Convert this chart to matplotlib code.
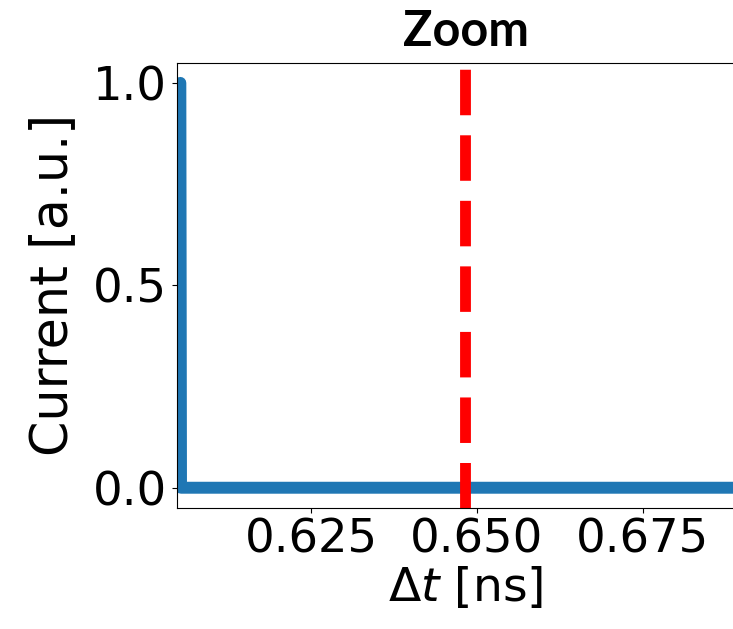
import matplotlib
matplotlib.use("Agg")
import matplotlib.pyplot as plt

# pulse data (ns, a.u.)
t_ns = [0.6053, 0.6054, 0.75]
current = [1.0, 0.0, 0.0]
t_marker = 0.6482
x_range = [0.6048, 0.6919]
x_ticks = [0.625, 0.650, 0.675]
y_ticks = [0.0, 0.5, 1.0]

fig = plt.figure(figsize=(7.33, 6.29), dpi=100)
ax = fig.add_axes([0.2415, 0.1924, 0.7885, 0.708])

ax.plot(t_ns, current, color='#1f77b4', lw=8.6, solid_capstyle='round', solid_joinstyle='round')
ax.axvline(t_marker, color='red', lw=7.8, ls=(0, (4.2, 1.85)))

ax.set_xlim(x_range)
ax.set_ylim(-0.05, 1.05)
ax.set_xticks(x_ticks)
ax.set_xticklabels(['0.625', '0.650', '0.675'])
ax.set_yticks(y_ticks)
ax.set_yticklabels(['0.0', '0.5', '1.0'])
ax.tick_params(labelsize=33.5)

ax.set_xlabel(r'$\Delta t$ [ns]', fontsize=34, labelpad=2)
ax.set_ylabel('Current [a.u.]', fontsize=36.5, labelpad=11)
ax.set_title('Zoom', fontsize=35, fontweight='bold', family='Lato', pad=12)

fig.savefig('out.png', dpi=100)
